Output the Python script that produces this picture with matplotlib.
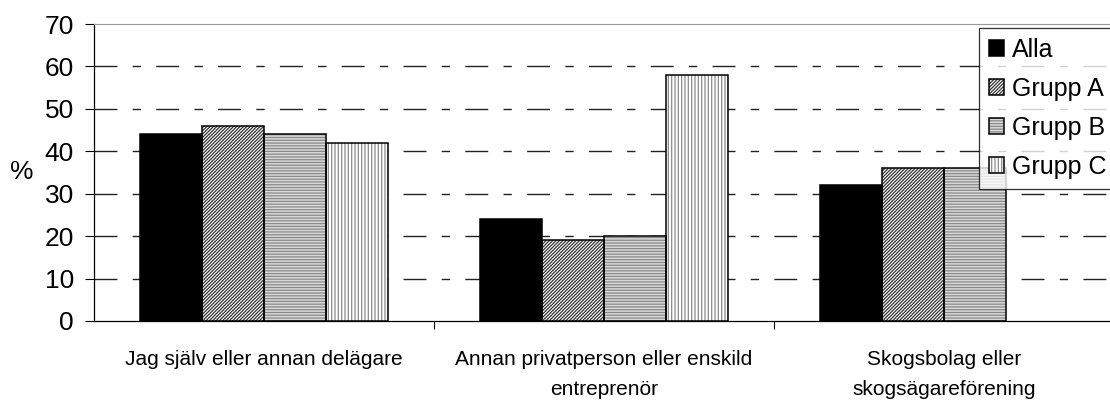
import numpy as np
import matplotlib.pyplot as plt
from matplotlib.legend_handler import HandlerTuple

# --- Data ---
categories = [
    "Jag själv eller annan delägare",
    "Annan privatperson eller enskild\nentreprenör",
    "Skogsbolag eller\nskogsägareförening",
]
series_names = ["Alla", "Grupp A", "Grupp B", "Grupp C"]
alla = [44, 24, 32]
grupp_a = [46, 19, 36]
grupp_b = [44, 20, 36]
grupp_c = [42, 58, np.nan]  # no bar in the last group
y_ticks = [0, 10, 20, 30, 40, 50, 60, 70]

plt.rcParams["font.family"] = ["Liberation Sans", "DejaVu Sans"]
plt.rcParams["hatch.linewidth"] = 0.9

# --- Plotting ---
fig = plt.figure(figsize=(11.1, 4.05), dpi=100)
ax = fig.add_axes([94 / 1110, 1 - 321 / 405, 1020 / 1110, 297 / 405])

x = np.arange(len(categories))
width = 0.182
# face colour, hatch, hatch colour
styles = [
    ("black", None, "black"),
    ("white", "//////////", "#333333"),
    ("#d8d8d8", "------", "#8a8a8a"),
    ("white", "|||||", "#8a8a8a"),
]
all_series = [alla, grupp_a, grupp_b, grupp_c]
handles = []
for i, (vals, (fc, hatch, hc)) in enumerate(zip(all_series, styles)):
    pos = x + (i - 1.5) * width
    fill = ax.bar(pos, vals, width, facecolor=fc, edgecolor=hc, hatch=hatch,
                  linewidth=0, zorder=3)
    edge = ax.bar(pos, vals, width, fill=False, edgecolor="black",
                  linewidth=1.1, zorder=4)
    handles.append((fill.patches[0], edge.patches[0]))

ax.set_xlim(-0.5, 2.5)
ax.set_ylim(0, 70)
ax.set_yticks(y_ticks)
ax.tick_params(axis="y", direction="out", length=6.5, width=0.8, pad=8, labelsize=19)

ax.set_xticks(x)
ax.set_xticklabels(categories, fontsize=15, linespacing=1.75)
ax.tick_params(axis="x", which="major", length=0, pad=21)
ax.set_xticks([0.5, 1.5, 2.5], minor=True)
ax.tick_params(axis="x", which="minor", direction="out", length=6, width=0.8)

for yv in y_ticks[1:-1]:
    ax.axhline(yv, color="#222222", linewidth=1.0, dashes=(16.5, 11, 6, 11), zorder=1)

ax.spines["left"].set_linewidth(0.9)
ax.spines["bottom"].set_linewidth(0.9)
ax.spines["top"].set_color("#999999")
ax.spines["right"].set_visible(False)

ax.set_ylabel("%", fontsize=19, rotation=0, ha="center", va="center")
ax.yaxis.set_label_coords(-72 / 1020, (321 - 172) / 297)

leg = ax.legend(
    handles,
    series_names,
    handler_map={tuple: HandlerTuple(ndivide=1, pad=0)},
    loc="upper left",
    bbox_to_anchor=(979 / 1110, 1 - 28 / 405),
    bbox_transform=fig.transFigure,
    fontsize=18,
    frameon=True,
    fancybox=False,
    edgecolor="black",
    handlelength=0.6,
    handleheight=0.6,
    handletextpad=0.3,
    labelspacing=0.6,
    borderpad=0.4,
    borderaxespad=0,
)
leg.get_frame().set_linewidth(0.9)
leg.set_zorder(5)

plt.savefig("out.png", dpi=100)
